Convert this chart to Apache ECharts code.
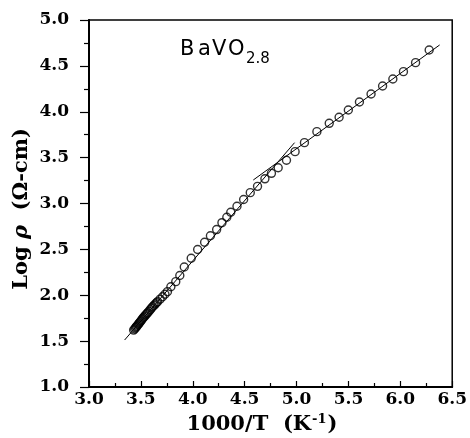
<!DOCTYPE html>
<html>
<head>
<meta charset="utf-8">
<script src="https://cdn.jsdelivr.net/npm/echarts@6/dist/echarts.min.js"></script>
<style>
  html, body { margin: 0; padding: 0; background: #fff; }
  #chart { width: 470px; height: 438px; }
</style>
</head>
<body>
<div id="chart"></div>
<script>
// Resistivity of BaVO2.8: log(rho) against 1000/T
const invT = [
  3.430, 3.440, 3.448, 3.455, 3.462, 3.470, 3.478, 3.486, 3.494, 3.502,
  3.510, 3.518, 3.527, 3.537, 3.547, 3.557, 3.566, 3.578, 3.590, 3.602,
  3.613, 3.626, 3.638, 3.650, 3.661, 3.685, 3.709, 3.732, 3.756, 3.789,
  3.836, 3.875, 3.918, 3.985, 4.047, 4.114, 4.170, 4.230, 4.281, 4.328,
  4.366, 4.426, 4.490, 4.554, 4.624, 4.695, 4.758, 4.823, 4.903, 4.986,
  5.076, 5.196, 5.315, 5.410, 5.499, 5.606, 5.718, 5.829, 5.928, 6.030,
  6.147, 6.278
];
const logRho = [
  1.620, 1.632, 1.645, 1.655, 1.664, 1.676, 1.688, 1.699, 1.711, 1.722,
  1.736, 1.749, 1.760, 1.772, 1.786, 1.798, 1.810, 1.826, 1.843, 1.860,
  1.875, 1.889, 1.904, 1.918, 1.930, 1.957, 1.984, 2.011, 2.039, 2.093,
  2.148, 2.215, 2.308, 2.403, 2.499, 2.578, 2.649, 2.716, 2.791, 2.850,
  2.905, 2.970, 3.044, 3.118, 3.187, 3.269, 3.329, 3.390, 3.471, 3.565,
  3.663, 3.783, 3.874, 3.940, 4.019, 4.106, 4.193, 4.281, 4.357, 4.437,
  4.535, 4.673
];

// Straight-line fits for the two activation regimes
const fitSteepX = [3.343, 4.981];
const fitSteepY = [1.512, 3.663];
const fitShallowX = [4.583, 6.379];
const fitShallowY = [3.256, 4.728];

// Axis ranges
const xRange = [3.0, 6.5];
const yRange = [1.0, 5.0];
const tickStep = 0.5;

const zip = (xs, ys) => xs.map((x, i) => [x, ys[i]]);

const serif = '"DejaVu Serif", serif';
const sans = '"DejaVu Sans", sans-serif';
const chart = echarts.init(document.getElementById('chart'), null, { renderer: 'canvas' });

chart.setOption({
  backgroundColor: '#fff',
  animation: false,
  grid: {
    left: 89, right: 14, top: 20, bottom: 51,
    show: true, borderColor: '#000', borderWidth: 1.5, backgroundColor: 'transparent'
  },
  xAxis: {
    type: 'value',
    min: xRange[0], max: xRange[1], interval: tickStep,
    axisLine: { lineStyle: { color: '#000', width: 2 } },
    axisTick: { inside: true, length: 6, lineStyle: { color: '#000', width: 1.2 } },
    minorTick: { show: true, splitNumber: 2, length: 4, lineStyle: { color: '#000', width: 1.2 } },
    splitLine: { show: false },
    axisLabel: {
      color: '#000', fontFamily: serif, fontWeight: 'bold', fontSize: 17, margin: 4,
      formatter: v => v.toFixed(1)
    }
  },
  yAxis: {
    type: 'value',
    min: yRange[0], max: yRange[1], interval: tickStep,
    axisLine: { lineStyle: { color: '#000', width: 2 } },
    axisTick: { inside: false, length: 9, lineStyle: { color: '#000', width: 1.2 } },
    minorTick: { show: true, splitNumber: 2, length: 5, lineStyle: { color: '#000', width: 1.2 } },
    splitLine: { show: false },
    axisLabel: {
      color: '#000', fontFamily: serif, fontWeight: 'bold', fontSize: 17, margin: 20,
      formatter: v => v.toFixed(1)
    }
  },
  graphic: [
    {
      type: 'text', silent: true,
      x: 22, y: 209, rotation: Math.PI / 2,
      style: {
        text: '{n|Log }{i|ρ}{n|  (Ω-cm)}',
        align: 'center', verticalAlign: 'middle',
        rich: {
          n: { fontFamily: serif, fontWeight: 'bold', fontSize: 21, fill: '#000' },
          i: { fontFamily: serif, fontWeight: 'bold', fontStyle: 'italic', fontSize: 21, fill: '#000' }
        }
      }
    },
    {
      type: 'text', silent: true,
      x: 262, y: 425,
      style: {
        text: '{n|1000/T  (K}{s|-1}{n|)}',
        align: 'center', verticalAlign: 'middle',
        rich: {
          n: { fontFamily: serif, fontWeight: 'bold', fontSize: 21, fill: '#000' },
          s: { fontFamily: serif, fontWeight: 'bold', fontSize: 13, fill: '#000', padding: [0, 1, 10, 1] }
        }
      }
    },
    {
      type: 'text', silent: true,
      x: 180, y: 50,
      style: {
        text: '{b|B}{a|a}{v|V}{o|O}',
        align: 'left', verticalAlign: 'middle',
        rich: {
          b: { fontFamily: sans, fontSize: 21, fill: '#000', width: 18 },
          a: { fontFamily: sans, fontSize: 21, fill: '#000', width: 14 },
          v: { fontFamily: sans, fontSize: 21, fill: '#000', width: 16 },
          o: { fontFamily: sans, fontSize: 21, fill: '#000', width: 18 }
        }
      }
    },
    {
      type: 'text', silent: true,
      x: 246, y: 59,
      style: {
        text: '2.8', fontFamily: sans, fontSize: 15, fill: '#000',
        align: 'left', verticalAlign: 'middle'
      }
    }
  ],
  series: [
    {
      type: 'line', data: zip(fitSteepX, fitSteepY), showSymbol: false, z: 2,
      lineStyle: { color: '#000', width: 1 }
    },
    {
      type: 'line', data: zip(fitShallowX, fitShallowY), showSymbol: false, z: 2,
      lineStyle: { color: '#000', width: 1 }
    },
    {
      type: 'scatter', data: zip(invT, logRho), symbol: 'circle', symbolSize: 8, z: 3,
      itemStyle: { color: 'rgba(0,0,0,0)', borderColor: '#000', borderWidth: 1.4 }
    }
  ]
});
</script>
</body>
</html>
